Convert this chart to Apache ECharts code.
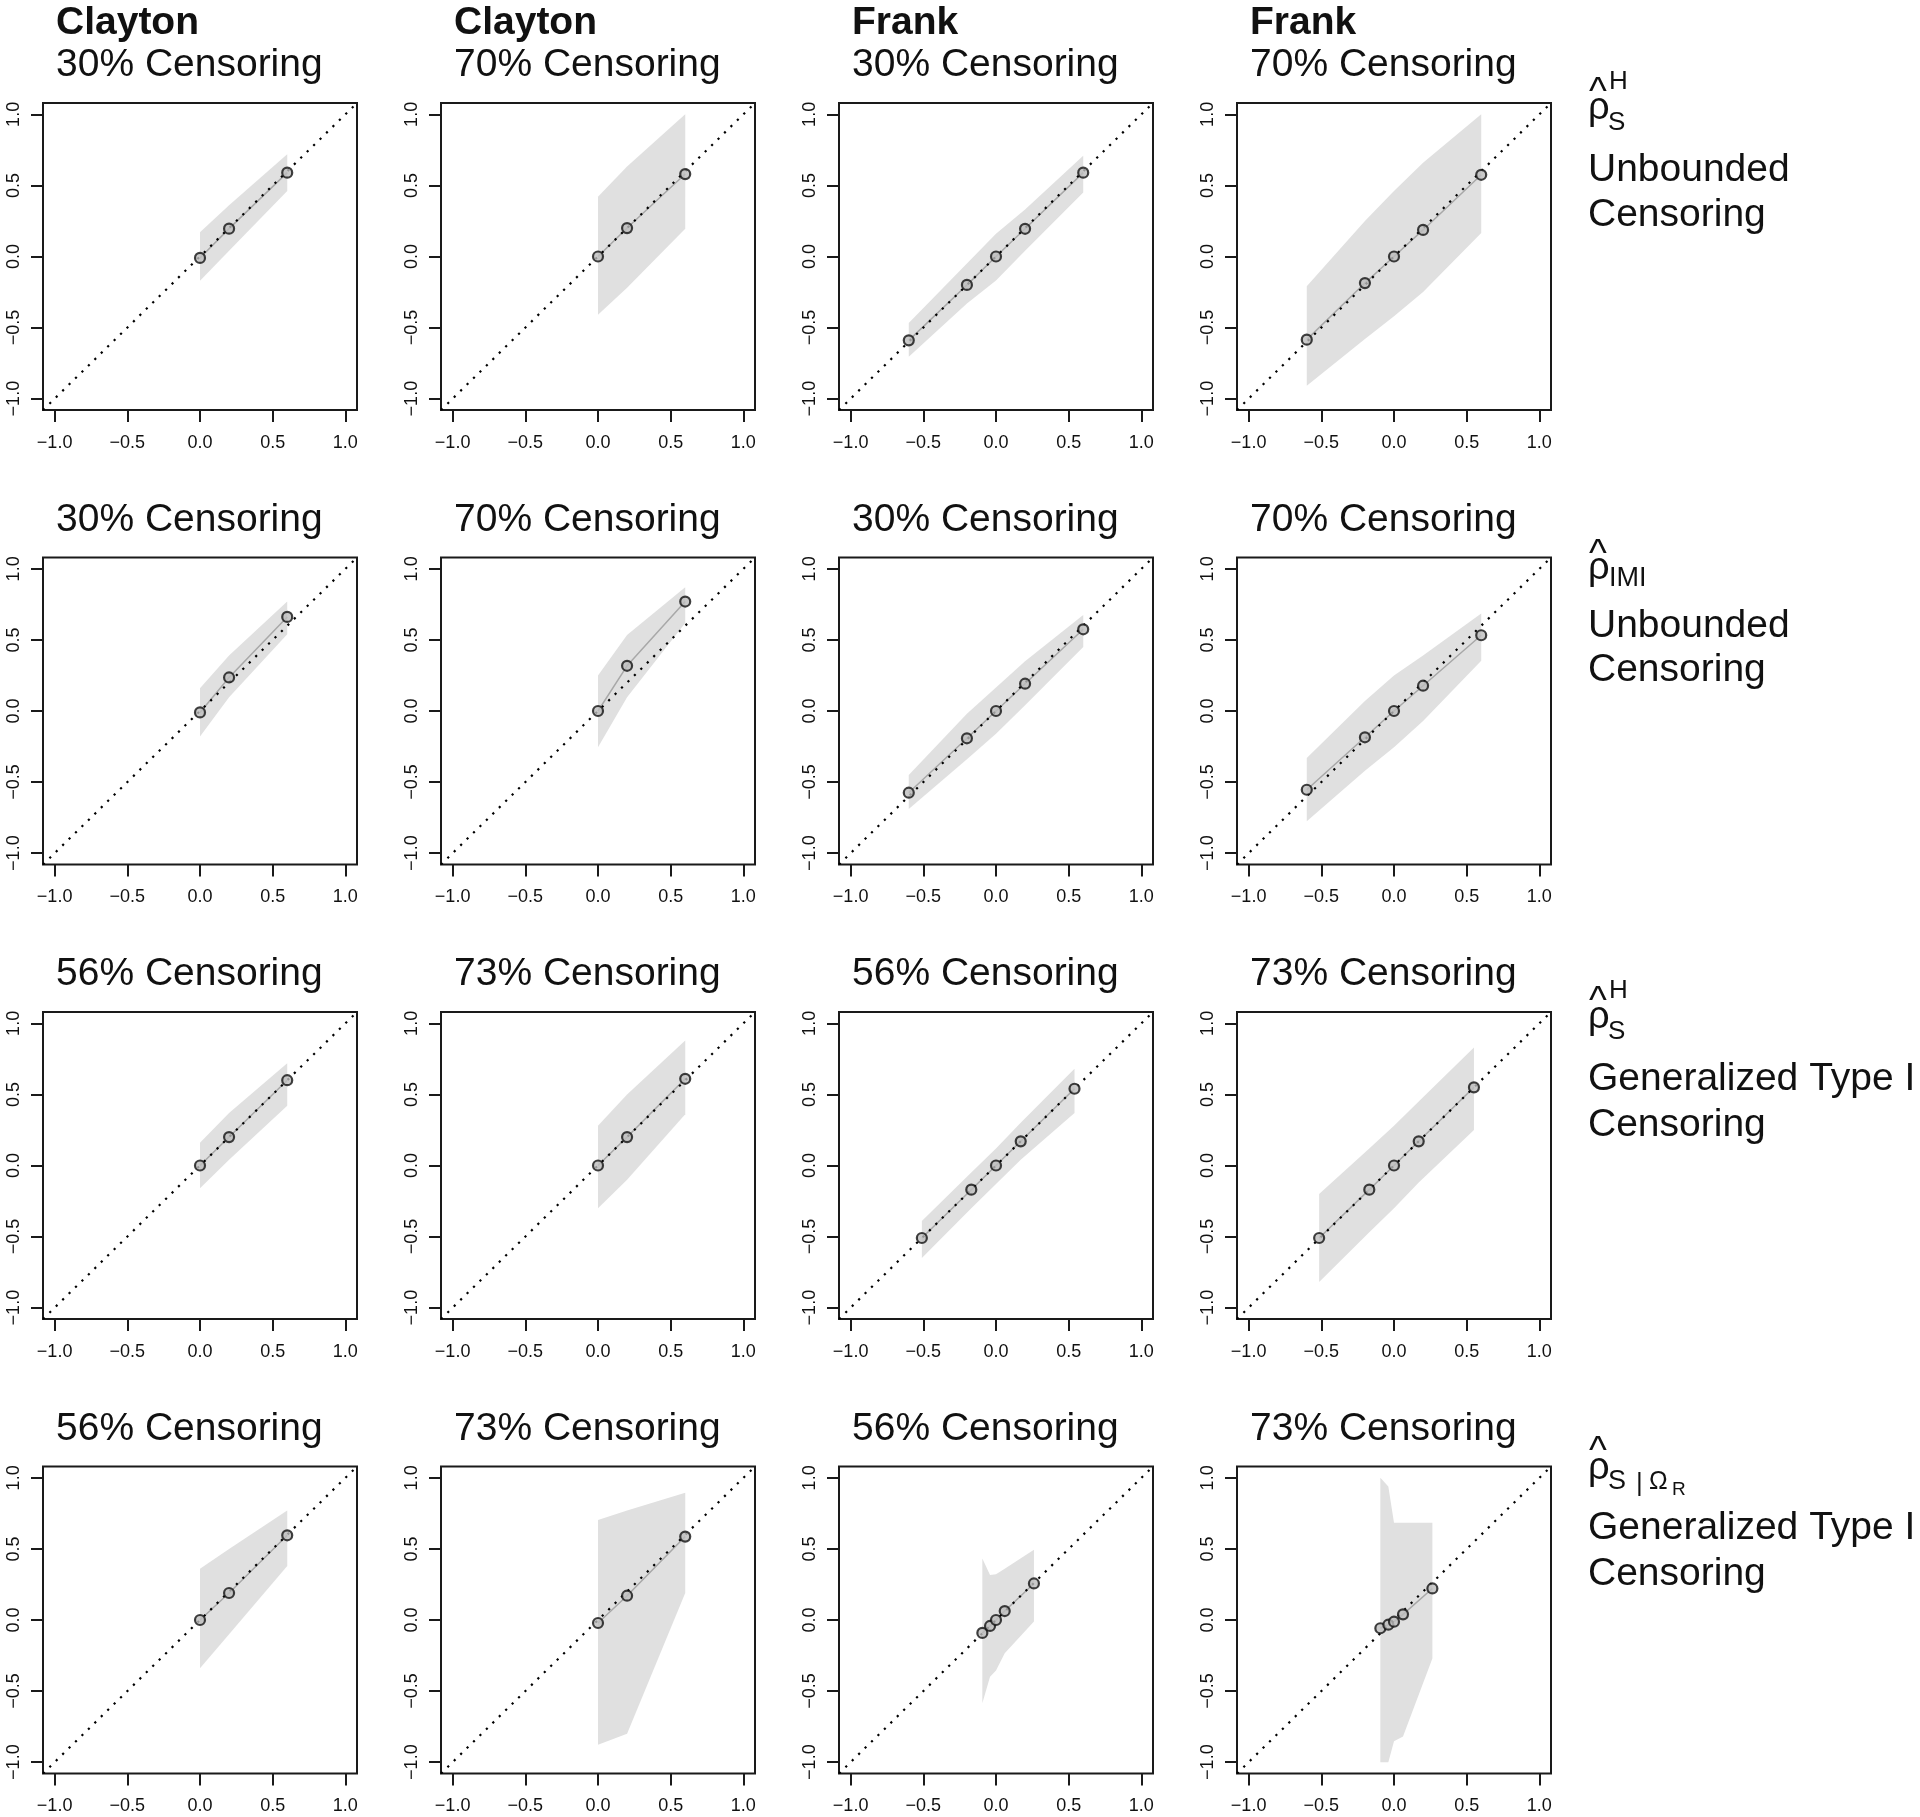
<!DOCTYPE html>
<html><head><meta charset="utf-8">
<script src="https://cdn.jsdelivr.net/npm/echarts@6/dist/echarts.min.js"></script>
<style>html,body{margin:0;padding:0;background:#fff}#c{width:1920px;height:1817px}</style>
</head><body><div id="c"></div>
<script>
// ---------- tick labels / axis ----------
const tickValues = [-1, -0.5, 0, 0.5, 1];
const axisMin = -1.08, axisMax = 1.08;

// ---------- panel titles ----------
const copulaNames = ['Clayton', 'Clayton', 'Frank', 'Frank'];
const titlesRow1 = ['30% Censoring', '70% Censoring', '30% Censoring', '70% Censoring'];
const titlesRow2 = ['30% Censoring', '70% Censoring', '30% Censoring', '70% Censoring'];
const titlesRow3 = ['56% Censoring', '73% Censoring', '56% Censoring', '73% Censoring'];
const titlesRow4 = ['56% Censoring', '73% Censoring', '56% Censoring', '73% Censoring'];

// ---------- true values (x) ----------
const xClayton = [0, 0.2, 0.6];
const xFrank = [-0.6, -0.2, 0, 0.2, 0.6];
const xFrankGT56 = [-0.51, -0.17, 0, 0.17, 0.54];
const xFrankGT73 = [-0.515, -0.17, 0, 0.17, 0.55];
const xFrankR56 = [-0.094, -0.041, 0, 0.06, 0.261];
const xFrankR73 = [-0.094, -0.039, 0, 0.062, 0.264];

// ---------- row 1: rho_S^H, unbounded censoring ----------
const est11 = [-0.01, 0.196, 0.59];
const lo11  = [-0.17, 0.04, 0.46];
const hi11  = [0.17, 0.36, 0.72];
const est12 = [0.0, 0.2, 0.58];
const lo12  = [-0.41, -0.22, 0.195];
const hi12  = [0.42, 0.634, 1.0];
const est13 = [-0.59, -0.2, 0.0, 0.195, 0.59];
const lo13  = [-0.706, -0.33, -0.168, 0.04, 0.451];
const hi13  = [-0.468, -0.05, 0.16, 0.33, 0.709];
const est14 = [-0.585, -0.187, 0.0, 0.187, 0.575];
const lo14  = [-0.91, -0.58, -0.42, -0.25, 0.166];
const hi14  = [-0.21, 0.25, 0.46, 0.66, 1.0];

// ---------- row 2: rho_IMI, unbounded censoring ----------
const est21 = [-0.01, 0.236, 0.662];
const lo21  = [-0.18, 0.096, 0.54];
const hi21  = [0.16, 0.39, 0.77];
const est22 = [0.0, 0.318, 0.77];
const lo22  = [-0.255, 0.096, 0.62];
const hi22  = [0.25, 0.535, 0.87];
const est23 = [-0.575, -0.192, 0.0, 0.192, 0.575];
const lo23  = [-0.69, -0.34, -0.16, 0.04, 0.45];
const hi23  = [-0.45, -0.02, 0.166, 0.35, 0.676];
const est24 = [-0.554, -0.185, 0.0, 0.178, 0.533];
const lo24  = [-0.775, -0.42, -0.255, -0.07, 0.353];
const hi24  = [-0.33, 0.07, 0.25, 0.39, 0.686];

// ---------- row 3: rho_S^H, generalized type I censoring ----------
const est31 = [0.0, 0.2, 0.6];
const lo31  = [-0.16, 0.04, 0.42];
const hi31  = [0.16, 0.37, 0.72];
const est32 = [0.0, 0.2, 0.61];
const lo32  = [-0.3, -0.1, 0.36];
const hi32  = [0.28, 0.5, 0.88];
const est33 = [-0.51, -0.17, 0.0, 0.17, 0.54];
const lo33  = [-0.65, -0.3, -0.13, 0.04, 0.37];
const hi33  = [-0.39, -0.05, 0.12, 0.3, 0.68];
const est34 = [-0.51, -0.17, 0.0, 0.17, 0.55];
const lo34  = [-0.82, -0.47, -0.3, -0.12, 0.25];
const hi34  = [-0.2, 0.12, 0.28, 0.45, 0.83];

// ---------- row 4: rho_S|Omega_R, generalized type I censoring ----------
const est41 = [0.0, 0.19, 0.596];
const lo41  = [-0.34, -0.1, 0.38];
const hi41  = [0.36, 0.5, 0.77];
const est42 = [-0.021, 0.171, 0.587];
const lo42  = [-0.877, -0.8, 0.19];
const hi42  = [0.704, 0.77, 0.896];
const est43 = [-0.091, -0.042, 0.0, 0.063, 0.257];
const lo43  = [-0.585, -0.40, -0.355, -0.234, -0.01];
const hi43  = [0.433, 0.316, 0.322, 0.36, 0.494];
const est44 = [-0.058, -0.033, -0.012, 0.04, 0.222];
const lo44  = [-1.0, -1.0, -0.853, -0.82, -0.27];
const hi44  = [1.0, 0.94, 0.685, 0.685, 0.685];

const panels = [
  [{x: xClayton, est: est11, lo: lo11, hi: hi11}, {x: xClayton, est: est12, lo: lo12, hi: hi12},
   {x: xFrank, est: est13, lo: lo13, hi: hi13}, {x: xFrank, est: est14, lo: lo14, hi: hi14}],
  [{x: xClayton, est: est21, lo: lo21, hi: hi21}, {x: xClayton, est: est22, lo: lo22, hi: hi22},
   {x: xFrank, est: est23, lo: lo23, hi: hi23}, {x: xFrank, est: est24, lo: lo24, hi: hi24}],
  [{x: xClayton, est: est31, lo: lo31, hi: hi31}, {x: xClayton, est: est32, lo: lo32, hi: hi32},
   {x: xFrankGT56, est: est33, lo: lo33, hi: hi33}, {x: xFrankGT73, est: est34, lo: lo34, hi: hi34}],
  [{x: xClayton, est: est41, lo: lo41, hi: hi41}, {x: xClayton, est: est42, lo: lo42, hi: hi42},
   {x: xFrankR56, est: est43, lo: lo43, hi: hi43}, {x: xFrankR73, est: est44, lo: lo44, hi: hi44}]
];
const rowTitles = [titlesRow1, titlesRow2, titlesRow3, titlesRow4];

// ---------- layout ----------
const colLeft = [43, 441, 839, 1237];
const rowTop = [103, 557.5, 1012, 1466.5];
const gridW = 314, gridH = 307;
const FONT = '"Liberation Sans", Arial, Helvetica, sans-serif';
const INK = '#111';

function fmt(v) {
  return (v < 0 ? '\u2212' : '') + Math.abs(v).toFixed(1);
}
function txt(x, baseline, text, fs, bold) {
  return {
    type: 'text', x: x, y: baseline - 0.3465 * fs, silent: true,
    style: {text: text, font: (bold ? 'bold ' : '') + fs + 'px ' + FONT, fill: INK,
            align: 'left', verticalAlign: 'middle'}
  };
}

const grids = [], xAxes = [], yAxes = [], series = [], graphics = [];
let gi = 0;
for (let r = 0; r < 4; r++) {
  for (let c = 0; c < 4; c++) {
    const p = panels[r][c];
    grids.push({left: colLeft[c], top: rowTop[r], width: gridW, height: gridH,
      show: true, borderColor: '#1a1a1a', borderWidth: 2, backgroundColor: 'transparent'});
    const axCommon = {
      type: 'value', gridIndex: gi, min: axisMin, max: axisMax,
      axisLine: {show: false, onZero: false}, splitLine: {show: false},
      axisTick: {show: true, length: 12, customValues: tickValues, lineStyle: {color: '#1a1a1a', width: 2}},
      axisLabel: {show: true, customValues: tickValues, formatter: fmt, fontSize: 18,
        fontFamily: FONT, color: INK, margin: 24}
    };
    xAxes.push(Object.assign({}, axCommon, {position: 'bottom'}));
    yAxes.push(Object.assign({}, axCommon, {position: 'left',
      axisLabel: Object.assign({}, axCommon.axisLabel, {rotate: 90, margin: 20})}));

    // band (quantile envelope)
    series.push({
      type: 'custom', xAxisIndex: gi, yAxisIndex: gi, silent: true, z: 1,
      data: p.x.map((v, k) => [v, p.lo[k], p.hi[k]]),
      encode: {x: 0, y: [1, 2]},
      renderItem: function (params, api) {
        if (params.dataIndexInside !== 0) return null;
        const n = params.dataInsideLength;
        const pts = [];
        for (let k = 0; k < n; k++) pts.push(api.coord([api.value(0, k), api.value(2, k)]));
        for (let k = n - 1; k >= 0; k--) pts.push(api.coord([api.value(0, k), api.value(1, k)]));
        return {type: 'polygon', shape: {points: pts}, style: {fill: '#e0e0e0', stroke: null}};
      }
    });
    // mean line
    series.push({
      type: 'line', xAxisIndex: gi, yAxisIndex: gi, silent: true, z: 2,
      data: p.x.map((v, k) => [v, p.est[k]]), symbol: 'none',
      lineStyle: {color: '#a8a8a8', width: 1.5}
    });
    // identity line
    series.push({
      type: 'line', xAxisIndex: gi, yAxisIndex: gi, silent: true, z: 3,
      data: [[axisMin, axisMin], [axisMax, axisMax]], symbol: 'none',
      lineStyle: {color: '#000', width: 2.2, type: [2.2, 6.8]}
    });
    // points
    series.push({
      type: 'scatter', xAxisIndex: gi, yAxisIndex: gi, silent: true, z: 4,
      data: p.x.map((v, k) => [v, p.est[k]]), symbol: 'circle', symbolSize: 10,
      itemStyle: {color: '#bdbdbd', borderColor: '#111', borderWidth: 2.2}
    });

    // titles
    const tx = colLeft[c] + 13;
    const tb = 79 + r * 454.6;
    if (r === 0) graphics.push(txt(tx, 37, copulaNames[c], 39, true));
    graphics.push(txt(tx, tb, rowTitles[r][c], 39, false));
    gi++;
  }
}

// ---------- row labels (right side) ----------
const LX = 1588;
// row 1
graphics.push(txt(LX + 1, 107, '^', 38), txt(LX, 122, '\u03c1', 38),
  txt(LX + 21, 91, 'H', 26), txt(LX + 20, 132, 'S', 26),
  txt(LX, 184, 'Unbounded', 39), txt(LX, 229, 'Censoring', 39));
// row 2
graphics.push(txt(LX + 1, 569, '^', 38), txt(LX, 582, '\u03c1', 38),
  txt(LX + 21, 588, 'IMI', 27),
  txt(LX, 640, 'Unbounded', 39), txt(LX, 684, 'Censoring', 39));
// row 3
graphics.push(txt(LX + 1, 1016, '^', 38), txt(LX, 1031, '\u03c1', 38),
  txt(LX + 21, 1000, 'H', 26), txt(LX + 20, 1041, 'S', 26),
  txt(LX, 1093, 'Generalized Type I', 39), txt(LX, 1139, 'Censoring', 39));
// row 4
graphics.push(txt(LX + 1, 1466, '^', 38), txt(LX, 1482, '\u03c1', 38),
  txt(LX + 20, 1491, 'S', 27), txt(LX + 48, 1493, '|', 26),
  txt(LX + 61, 1491, '\u03a9', 25), txt(LX + 84, 1496, 'R', 19),
  txt(LX, 1542, 'Generalized Type I', 39), txt(LX, 1588, 'Censoring', 39));

const chart = echarts.init(document.getElementById('c'), null, {renderer: 'canvas'});
chart.setOption({
  animation: false,
  backgroundColor: '#fff',
  grid: grids, xAxis: xAxes, yAxis: yAxes, series: series,
  graphic: {elements: graphics}
});
</script></body></html>
